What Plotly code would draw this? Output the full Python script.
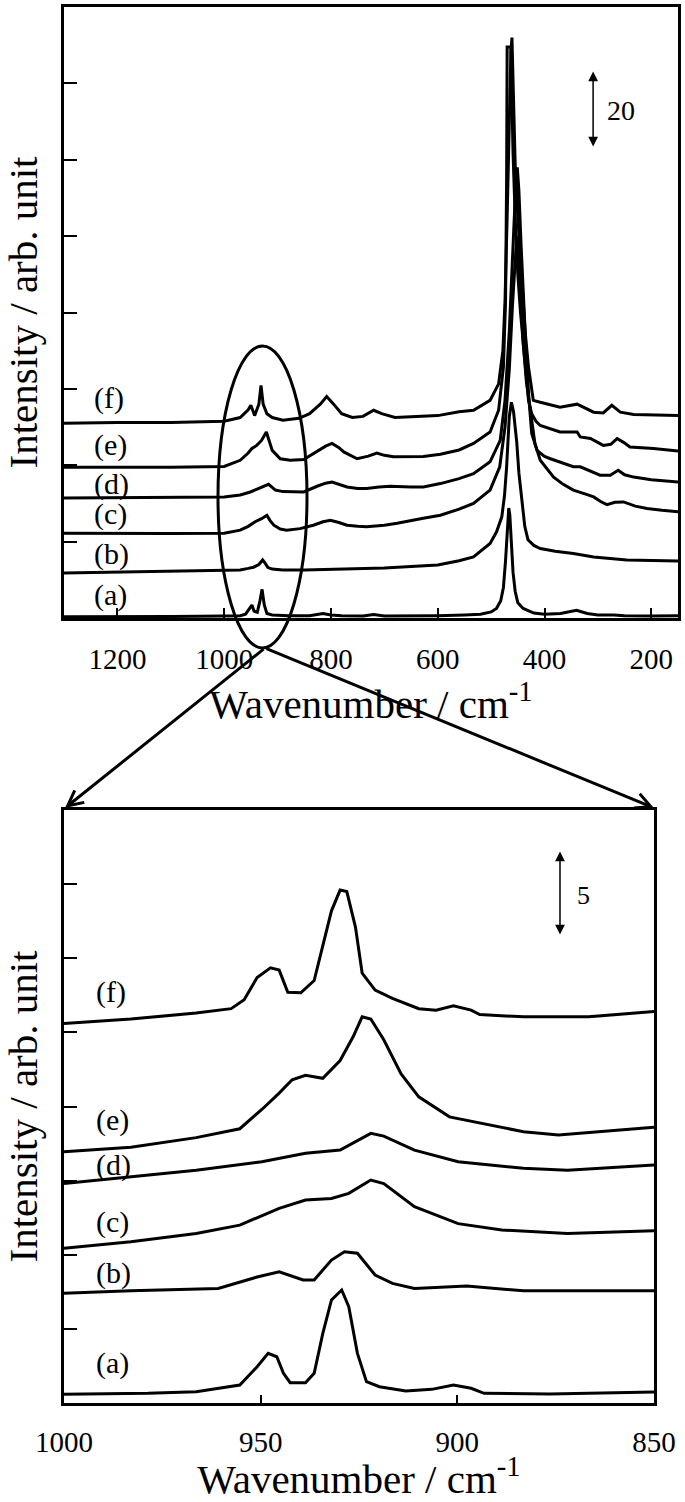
import plotly.graph_objects as go

# ---------------- data: top panel (full spectra) ----------------
top_a_wn = [1300, 1200, 1100, 1000, 970, 960, 952, 948, 944, 938, 933, 929, 925, 920, 910, 880, 840, 815,
            800, 780, 740, 720, 700, 650, 600, 550, 520, 500, 490, 482, 477, 473, 470, 467, 465, 462, 459,
            455, 450, 440, 430, 420, 400, 370, 340, 320, 300, 270, 250, 200, 150]
top_a_int = [0.3, 0.3, 0.4, 0.5, 0.6, 1.0, 2.5, 3.4, 1.8, 1.5, 4.5, 7.5, 3.5, 1.2, 0.8, 0.6, 0.6, 1.2,
             0.8, 0.6, 0.5, 0.9, 0.5, 0.5, 0.6, 0.8, 1.0, 1.6, 2.5, 4.5, 8.0, 15, 23, 28.8, 27, 20, 12,
             7, 4, 2.5, 1.8, 1.3, 1.0, 1.2, 2.0, 1.2, 0.8, 0.8, 0.6, 0.5, 0.6]

top_b_wn = [1300, 1200, 1100, 1000, 970, 955, 945, 935, 928, 924, 918, 910, 890, 850, 800, 750, 700, 650,
            600, 560, 533, 502, 490, 480, 475, 471, 466, 462, 458, 455, 452, 448, 443, 437, 431, 420,
            408, 380, 346, 308, 246, 200, 150]
top_b_int = [11.8, 12.0, 12.2, 12.4, 12.6, 13.0, 13.3, 14.0, 15.2, 14.5, 13.2, 12.8, 12.6, 12.6, 12.8, 13.0,
             13.1, 13.5, 13.9, 15.0, 16.0, 19.5, 22.5, 26.5, 32, 39.5, 52.7, 56.5, 54, 50, 46, 38, 31,
             24, 20.5, 19.0, 18.2, 17.5, 16.9, 16.0, 15.2, 15.0, 14.9]

top_c_wn = [1300, 1200, 1100, 1000, 970, 955, 942, 930, 920, 914, 907, 895, 883, 858, 833, 815, 801, 785,
            770, 750, 733, 700, 676, 627, 595, 560, 533, 502, 484, 474, 466, 460, 455, 452, 449, 445,
            440, 434, 427, 418, 408, 395, 383, 365, 346, 320, 308, 295, 283, 268, 252, 230, 208, 180, 150]
top_c_int = [22.2, 22.1, 22.1, 22.2, 23.0, 24.0, 25.2, 26.0, 26.9, 25.5, 24.3, 23.3, 23.0, 23.4, 24.3, 25.2,
             25.6, 25.0, 24.3, 24.0, 23.9, 24.3, 24.8, 26.1, 26.9, 28.5, 30.0, 33.5, 39.5, 50, 65, 82, 95,
             100, 96, 85, 72, 62, 54.4, 45.7, 41.3, 39.0, 36.9, 35.0, 33.5, 32.3, 31.7, 30.5, 29.7, 30.3,
             30.4, 29.3, 28.7, 28.2, 27.8]

top_d_wn = [1300, 1200, 1100, 1000, 970, 951, 936, 925, 917, 910, 904, 890, 876, 851, 826, 810, 798, 785,
            770, 750, 733, 710, 689, 650, 627, 595, 560, 533, 502, 483, 474, 466, 460, 455, 451, 448,
            444, 439, 434, 429, 424, 414, 400, 389, 371, 346, 333, 310, 296, 277, 262, 250, 233, 200, 150]
top_d_int = [31.4, 31.5, 31.6, 31.7, 32.2, 33.0, 33.9, 34.6, 35.0, 34.2, 33.5, 33.1, 33.0, 33.0, 34.5, 35.3,
             35.6, 35.0, 34.3, 33.9, 33.9, 34.3, 34.5, 34.3, 34.3, 35.2, 36.5, 37.8, 40.9, 46.5, 57, 75,
             95, 110, 118, 112, 98, 82, 68, 57, 48.3, 43.9, 42.3, 41.7, 40.9, 39.6, 39.6, 38.3, 37.4, 37.4,
             38.7, 37.5, 36.9, 36.2, 35.6]

top_e_wn = [1300, 1200, 1100, 1000, 970, 955, 948, 939, 930, 921, 915, 910, 895, 876, 851, 826, 810, 798,
            785, 776, 751, 730, 714, 700, 683, 627, 595, 560, 533, 502, 486, 477, 473, 471, 470, 463,
            462, 459, 455, 450, 445, 440, 436, 430, 424, 416, 408, 390, 371, 339, 333, 314, 290, 276,
            264, 252, 240, 196, 150]
top_e_int = [39.5, 39.5, 39.5, 39.7, 41.3, 43.2, 44.4, 45.2, 46.5, 48.7, 46.0, 43.9, 41.7, 41.3, 41.5, 43.5,
             45.0, 45.7, 44.6, 43.5, 41.7, 42.4, 43.2, 42.6, 42.2, 42.3, 42.9, 44.0, 45.7, 48.7, 54.4,
             65.7, 83, 115, 149.5, 149.5, 140, 122, 105, 90, 80, 72, 65.7, 57, 53.5, 51.5, 50.4, 49.5,
             48.7, 48.7, 47.4, 47.0, 45.2, 45.5, 47.0, 46.0, 44.8, 44.4, 43.7]

top_f_wn = [1300, 1200, 1100, 1000, 970, 955, 950, 943, 935, 931, 927, 920, 910, 890, 860, 840, 820, 808,
            795, 780, 760, 740, 720, 705, 680, 640, 600, 560, 533, 502, 486, 478, 474, 470, 466, 463,
            461, 459, 457, 455, 450, 445, 439, 436, 430, 421, 408, 371, 339, 308, 290, 274, 258, 233, 150]
top_f_int = [51.0, 51.2, 51.2, 51.5, 52.5, 54.5, 55.7, 53.0, 56.0, 60.9, 56.0, 53.5, 52.5, 51.8, 52.3, 53.5,
             56.0, 58.0, 56.0, 53.5, 52.5, 52.8, 54.4, 53.5, 52.5, 52.8, 53.0, 54.0, 54.4, 57.0, 61.3,
             70, 83, 105, 130, 148, 152, 138, 128, 119, 105, 95, 83, 74.5, 65.7, 57.0, 56.5, 55.2, 56.0,
             53.9, 53.7, 55.7, 53.9, 53.3, 53.0]

# ---------------- data: bottom panel (1000-850 cm-1) ----------------
bot_a_wn = [1000, 978.6, 966.4, 955.3, 950.9, 948.1, 945.9, 944.2, 942.5, 938.6, 936.4, 934.2, 932, 929.4,
            927.6, 925.4, 923.1, 919.8, 913.1, 906.5, 901, 896.5, 893.2, 876.5, 850]
bot_a_int = [0.59, 0.65, 0.76, 1.21, 2.45, 3.35, 3.12, 2.0, 1.37, 1.37, 2.0, 4.7, 6.95, 7.62,
             6.5, 3.35, 1.44, 1.1, 0.81, 0.92, 1.21, 0.99, 0.65, 0.61, 0.74]

bot_b_wn = [1000, 983, 960.8, 950.9, 945.3, 939.2, 936.4, 932, 928.7, 925.4, 920.9, 916.5, 910.9, 897.6,
            883.2, 850]
bot_b_int = [7.4, 7.57, 7.73, 8.5, 8.85, 8.3, 8.3, 9.64, 10.2, 10.1, 8.63, 8.07, 7.73, 7.89, 7.57, 7.57]

bot_c_wn = [1000, 983, 966.4, 955.3, 945.3, 938.6, 932, 927.6, 922, 918.7, 910.9, 899.8, 888.7, 872, 850]
bot_c_int = [10.43, 10.88, 11.44, 12.0, 13.13, 13.69, 13.8, 14.14, 15.04, 14.8, 13.24, 12.1, 11.67, 11.44,
             11.62]

bot_d_wn = [1000, 983, 966.4, 949.7, 938.6, 929.8, 922, 918.7, 910.9, 899.8, 883.2, 872, 850]
bot_d_int = [14.8, 15.26, 15.7, 16.27, 16.84, 17.06, 18.19, 18.0, 17.06, 16.27, 15.83, 15.7, 16.05]

bot_e_wn = [1000, 983, 966.4, 955.3, 949.7, 945.3, 942, 938.6, 934.2, 929.8, 926.5, 924.2, 922, 918.7,
            914.3, 909.8, 902, 894.3, 883.2, 874.3, 850]
bot_e_int = [16.95, 17.25, 17.9, 18.5, 19.8, 20.9, 21.8, 22.1, 21.9, 23.1, 24.7, 26.05, 25.9, 24.5,
             22.2, 20.65, 19.3, 18.9, 18.3, 18.07, 18.6]

bot_f_wn = [1000, 983, 966.4, 957.5, 954.2, 950.9, 947.5, 945.3, 943.1, 939.8, 936.4, 934.2, 932, 929.8,
            928.1, 925.9, 924.2, 920.9, 916.5, 909.8, 905.4, 901, 896.5, 894.3, 883.2, 866.6, 850]
bot_f_int = [25.6, 25.9, 26.3, 26.6, 27.2, 28.7, 29.35, 29.2, 27.7, 27.67, 28.5, 30.8, 33.2, 34.6,
             34.5, 32.1, 29.0, 27.85, 27.3, 26.6, 26.5, 26.8, 26.5, 26.2, 26.05, 26.05, 26.4]

labels = ["(a)", "(b)", "(c)", "(d)", "(e)", "(f)"]
top_wn = [top_a_wn, top_b_wn, top_c_wn, top_d_wn, top_e_wn, top_f_wn]
top_int = [top_a_int, top_b_int, top_c_int, top_d_int, top_e_int, top_f_int]
bot_wn = [bot_a_wn, bot_b_wn, bot_c_wn, bot_d_wn, bot_e_wn, bot_f_wn]
bot_int = [bot_a_int, bot_b_int, bot_c_int, bot_d_int, bot_e_int, bot_f_int]
top_label_y = [6.0, 16.7, 27.2, 35.1, 45.3, 57.6]
bot_label_y = [2.7, 8.75, 12.2, 16.05, 19.1, 27.75]

W, H = 685, 1502
FONT = "Liberation Serif"

def px(p):
    return p / W

def py(p):
    return 1 - p / H

fig = go.Figure()
for name, xs, ys in zip(labels, top_wn, top_int):
    fig.add_trace(go.Scatter(x=xs, y=ys, mode="lines", name=name, xaxis="x", yaxis="y",
                             line=dict(color="black", width=3), showlegend=False))
for name, xs, ys in zip(labels, bot_wn, bot_int):
    fig.add_trace(go.Scatter(x=xs, y=ys, mode="lines", name=name, xaxis="x2", yaxis="y2",
                             line=dict(color="black", width=3), showlegend=False))

axis_common = dict(showline=True, linecolor="black", linewidth=3, mirror=True, showgrid=False,
                   zeroline=False, ticks="inside", tickcolor="black", tickwidth=1.5, automargin=False)

fig.update_layout(
    width=W, height=H, margin=dict(l=0, r=0, t=0, b=0),
    paper_bgcolor="white", plot_bgcolor="white",
    font=dict(family=FONT, color="black"),
    xaxis=dict(axis_common, domain=[px(64), px(678)], range=[1300, 150], anchor="y",
               tickvals=[1200, 1000, 800, 600, 400, 200], ticklen=10,
               tickfont=dict(size=29, family=FONT), ticklabelstandoff=13,
               title=dict(text="Wavenumber / cm<sup>-1</sup>", font=dict(size=41, family=FONT), standoff=0)),
    yaxis=dict(axis_common, domain=[py(618), py(7)], range=[0, 160], anchor="x",
               dtick=20, ticklen=13, showticklabels=False,
               title=dict(text="Intensity / arb. unit", font=dict(size=41, family=FONT), standoff=16)),
    xaxis2=dict(axis_common, domain=[px(64), px(654)], range=[1000, 850], anchor="y2",
                tickvals=[1000, 950, 900, 850], ticklen=8,
                tickfont=dict(size=29, family=FONT), ticklabelstandoff=11,
                title=dict(text="Wavenumber / cm<sup>-1</sup>", font=dict(size=41, family=FONT), standoff=10)),
    yaxis2=dict(axis_common, domain=[py(1403), py(810)], range=[0, 40], anchor="x2",
                dtick=5, ticklen=13, showticklabels=False,
                title=dict(text="Intensity / arb. unit", font=dict(size=41, family=FONT), standoff=16)),
)

ann = []
for lab, yv in zip(labels, top_label_y):
    ann.append(dict(x=1248, y=yv, xref="x", yref="y", text=lab, showarrow=False, xanchor="left",
                    yanchor="middle", font=dict(size=30, family=FONT, color="black")))
for lab, yv in zip(labels, bot_label_y):
    ann.append(dict(x=992.4, y=yv, xref="x2", yref="y2", text=lab, showarrow=False, xanchor="left",
                    yanchor="middle", font=dict(size=30, family=FONT, color="black")))

# scale bars
ann.append(dict(x=309, y=123.5, ax=309, ay=143.5, xref="x", yref="y", axref="x", ayref="y",
                text="", showarrow=True, arrowside="end+start", arrowhead=2, arrowsize=1.3,
                arrowwidth=1.5, arrowcolor="black"))
ann.append(dict(x=287, y=133, xref="x", yref="y", text="20", showarrow=False, xanchor="left",
                yanchor="middle", font=dict(size=28, family=FONT, color="black")))
ann.append(dict(x=873.9, y=31.6, ax=873.9, ay=37.3, xref="x2", yref="y2", axref="x2", ayref="y2",
                text="", showarrow=True, arrowside="end+start", arrowhead=2, arrowsize=1.3,
                arrowwidth=1.5, arrowcolor="black"))
ann.append(dict(x=867.8, y=34.25, xref="x2", yref="y2", text="5", showarrow=False, xanchor="center",
                yanchor="middle", font=dict(size=26, family=FONT, color="black")))

# zoom arrows from the ellipse to the lower panel corners
ann.append(dict(x=px(65), y=py(808), xref="paper", yref="paper", ax=200, ay=-160, axref="pixel",
                ayref="pixel", text="", showarrow=True, arrowhead=5, arrowsize=1, arrowwidth=3,
                arrowcolor="black"))
ann.append(dict(x=px(654), y=py(808), xref="paper", yref="paper", ax=265 - 654, ay=-160, axref="pixel",
                ayref="pixel", text="", showarrow=True, arrowhead=5, arrowsize=1, arrowwidth=3,
                arrowcolor="black"))
fig.update_layout(annotations=ann)

fig.add_shape(type="circle", xref="paper", yref="paper", x0=px(218), x1=px(307), y0=py(648), y1=py(346),
              line=dict(color="black", width=3))

fig.write_html("out.html", config={"displayModeBar": False},
               post_script="document.body.style.margin='0';")
